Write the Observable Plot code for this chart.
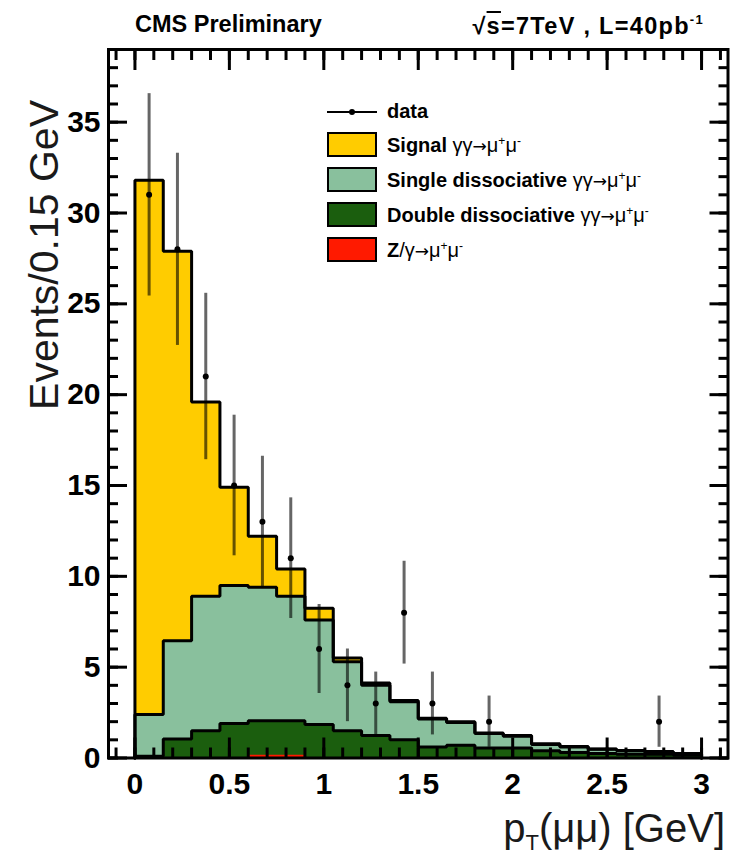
<!DOCTYPE html>
<html>
<head>
<meta charset="utf-8">
<script src="https://cdn.jsdelivr.net/npm/d3@7"></script>
<script src="https://cdn.jsdelivr.net/npm/@observablehq/plot@0.6"></script>
<style>
  body { margin: 0; background: #fff; }
  #wrap { position: relative; width: 731px; height: 857px; font-family: "Liberation Sans", Arial, sans-serif; color: #000; overflow: hidden; }
  #wrap svg { position: absolute; left: 0; top: 0; }
  .abs { position: absolute; white-space: nowrap; line-height: 1; }
  .hdr { font-size: 23.5px; font-weight: bold; top: 13px; }
  .ytitle { font-size: 41px; left: 0; top: 0; transform-origin: 0 0; transform: translate(24px, 100px) rotate(-90deg) translateX(-100%); color: #1a1a1a; }
  .xtitle { font-size: 40px; right: 6px; top: 808px; color: #1a1a1a; }
  .xtitle sub { font-size: 22px; line-height: 1; vertical-align: -8px; }
  .sw { position: absolute; width: 46px; height: 21px; border: 2.5px solid #000; }
  .lt { position: absolute; font-size: 20px; font-weight: bold; line-height: 1; white-space: nowrap; }
  .lt .sym { font-weight: normal; }
  .lt .arr { font-family: "DejaVu Sans", sans-serif; font-size: 17px; }
  .lt sup { font-size: 12px; line-height: 1; vertical-align: 7px; }
  .ov { text-decoration: overline; }
  .hdr sup { font-size: 13px; line-height: 1; vertical-align: 10px; }
</style>
</head>
<body>
<div id="wrap"></div>
<script>
// Lower edges of the 0.15 GeV bins of pT(mumu)
const binLow = [0, 0.15, 0.3, 0.45, 0.6, 0.75, 0.9, 1.05, 1.2, 1.35,
                1.5, 1.65, 1.8, 1.95, 2.1, 2.25, 2.4, 2.55, 2.7, 2.85];
const binWidth = 0.15;

// Stacked simulation, bottom to top
const zGamma     = [0, 0, 0, 0, 0.15, 0.15, 0, 0, 0, 0, 0, 0, 0, 0, 0, 0, 0, 0, 0, 0];
const doubleDiss = [0.1, 1.05, 1.5, 1.9, 1.9, 1.9, 1.85, 1.5, 1.24, 1.0,
                    0.6, 0.7, 0.55, 0.55, 0.4, 0.3, 0.25, 0.2, 0.2, 0.15];
const singleDiss = [2.3, 5.4, 7.4, 7.6, 7.35, 6.85, 5.75, 3.8, 2.76, 2.1,
                    1.55, 1.25, 0.8, 0.65, 0.35, 0.3, 0.23, 0.2, 0.15, 0.1];
const signal     = [29.4, 21.45, 10.7, 5.4, 2.8, 1.5, 0.65, 0.2, 0.13, 0.06,
                    0.04, 0.05, 0.03, 0.04, 0.03, 0.03, 0.02, 0.01, 0.01, 0];

// Observed events (non-empty bins)
const dataCenter = [0.075, 0.225, 0.375, 0.525, 0.675, 0.825, 0.975, 1.125, 1.275, 1.425, 1.575, 1.875, 2.775];
const dataCount  = [31, 28, 21, 15, 13, 11, 6, 4, 3, 8, 3, 2, 2];
const dataErr    = [5.57, 5.29, 4.58, 3.87, 3.61, 3.32, 2.45, 2.0, 1.73, 2.83, 1.73, 1.41, 1.41];

// Axis ticks
const xMajor = [0, 0.5, 1, 1.5, 2, 2.5, 3];
const yMajor = [0, 5, 10, 15, 20, 25, 30, 35];
const xMinor = d3.range(-1, 32).map(i => i / 10);
const yMinor = d3.range(0, 39);

const colSignal = "#ffcc00";
const colSingle = "#89c09d";
const colDouble = "#1b5e0e";
const colZ = "#ff1a00";

// Cumulative tops of each layer in the stack
const layers = [zGamma, doubleDiss, singleDiss, signal];
const cum = [];
layers.forEach((vals, k) => {
  cum.push(vals.map((v, i) => v + (k ? cum[k - 1][i] : 0)));
});

// Step contour of a histogram: up at the first edge, down at the last
function steps(vals) {
  const pts = [{x: binLow[0], y: 0}];
  vals.forEach((v, i) => pts.push({x: binLow[i], y: v}));
  const end = binLow[binLow.length - 1] + binWidth;
  pts.push({x: end, y: vals[vals.length - 1]});
  pts.push({x: end, y: 0});
  return pts;
}

const points = dataCenter.map((x, i) => ({x, n: dataCount[i], e: dataErr[i]}));

const fills = [colZ, colDouble, colSingle, colSignal];
const areaMarks = [3, 2, 1, 0].map(k =>
  Plot.areaY(steps(cum[k]), {x: "x", y1: 0, y2: "y", curve: "step-after", fill: fills[k]}));
const lineMarks = [3, 2, 1].map(k =>
  Plot.line(steps(cum[k]), {x: "x", y: "y", curve: "step-after", stroke: "black", strokeWidth: 3, strokeLinejoin: "miter"}));

const tickOpts = {tickFormat: () => "", strokeWidth: 3, label: null};

const chart = Plot.plot({
  width: 731,
  height: 857,
  marginLeft: 108,
  marginRight: 3.5,
  marginTop: 49,
  marginBottom: 99.5,
  x: {domain: [-0.14, 3.14]},
  y: {domain: [0, 39]},
  style: {fontFamily: "'Liberation Sans', Arial, sans-serif", color: "black", background: "transparent"},
  marks: [
    ...areaMarks,
    ...lineMarks,
    Plot.ruleX(points, {x: "x", y1: d => d.n - d.e, y2: d => d.n + d.e, stroke: "black", strokeOpacity: 0.6, strokeWidth: 3}),
    Plot.dot(points, {x: "x", y: "n", r: 3, fill: "black"}),
    Plot.frame({stroke: "black", strokeWidth: 3}),
    Plot.axisX({anchor: "bottom", ticks: xMajor, tickSize: -20, ...tickOpts}),
    Plot.axisX({anchor: "bottom", ticks: xMinor, tickSize: -10, ...tickOpts}),
    Plot.axisX({anchor: "top", ticks: xMajor, tickSize: -20, ...tickOpts}),
    Plot.axisX({anchor: "top", ticks: xMinor, tickSize: -10, ...tickOpts}),
    Plot.axisY({anchor: "left", ticks: yMajor, tickSize: -19, ...tickOpts}),
    Plot.axisY({anchor: "left", ticks: yMinor, tickSize: -10, ...tickOpts}),
    Plot.axisY({anchor: "right", ticks: yMajor, tickSize: -19, ...tickOpts}),
    Plot.axisY({anchor: "right", ticks: yMinor, tickSize: -10, ...tickOpts}),
    Plot.axisX({anchor: "bottom", ticks: xMajor, tickSize: 0, tickPadding: 15, tickFormat: d => String(d),
                fontSize: 30, fontWeight: "bold", label: null}),
    Plot.axisY({anchor: "left", ticks: yMajor, tickSize: 0, tickPadding: 8, tickFormat: d => String(d),
                fontSize: 30, fontWeight: "bold", label: null})
  ]
});

const wrap = document.getElementById("wrap");
wrap.appendChild(chart);

function addDiv(cls, html, style) {
  const d = document.createElement("div");
  d.className = cls;
  d.innerHTML = html;
  if (style) Object.assign(d.style, style);
  wrap.appendChild(d);
  return d;
}

addDiv("abs hdr", "CMS Preliminary", {left: "135px"});
addDiv("abs hdr", "√<span class='ov'>s</span>=7TeV , L=40pb<sup>-1</sup>", {right: "27px", letterSpacing: "1.3px"});
addDiv("abs ytitle", "Events/0.15 GeV");
addDiv("abs xtitle", "p<sub>T</sub>(μμ) [GeV]");

// Legend
const decay = "<span class='arr'>→</span>μ<sup>+</sup>μ<sup>-</sup>";
const sym = "<span class='sym'>γγ" + decay + "</span>";
const legendItems = [
  {label: "Signal " + sym, fill: colSignal},
  {label: "Single dissociative " + sym, fill: colSingle},
  {label: "Double dissociative " + sym, fill: colDouble},
  {label: "Z<span class='sym'>/γ" + decay + "</span>", fill: colZ}
];
const legLeft = 327, textLeft = 387;
// data entry: line with marker
const dl = document.createElement("div");
Object.assign(dl.style, {position: "absolute", left: legLeft + "px", top: "111px", width: "50px", height: "2px", background: "#000"});
wrap.appendChild(dl);
const dm = document.createElement("div");
Object.assign(dm.style, {position: "absolute", left: (legLeft + 22) + "px", top: "109px", width: "6px", height: "6px", borderRadius: "3px", background: "#000"});
wrap.appendChild(dm);
addDiv("lt", "data", {left: textLeft + "px", top: "101px"});
legendItems.forEach((it, i) => {
  const cy = 144.5 + 35 * i;
  const s = document.createElement("div");
  s.className = "sw";
  Object.assign(s.style, {left: legLeft + "px", top: (cy - 12.5) + "px", background: it.fill});
  wrap.appendChild(s);
  addDiv("lt", it.label, {left: textLeft + "px", top: (cy - 10) + "px"});
});
</script>
</body>
</html>
